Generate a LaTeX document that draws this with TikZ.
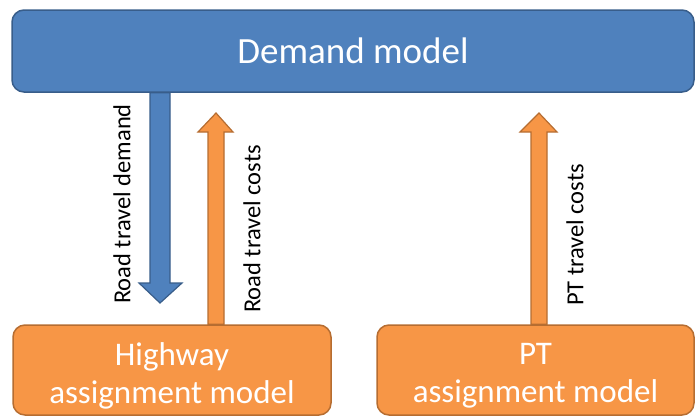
\documentclass[tikz,border=0pt]{standalone}
\usepackage{fontspec}
\setmainfont{Carlito}
\usetikzlibrary{calc,backgrounds}
\definecolor{dmblue}{RGB}{79,129,189}
\definecolor{dmblueline}{RGB}{56,93,138}
\definecolor{asorange}{RGB}{247,150,70}
\definecolor{asorangeline}{RGB}{182,109,49}
\begin{document}
\begin{tikzpicture}[x=1pt,y=-1pt,
  bluebox/.style={draw=dmblueline, fill=dmblue, line width=1.5pt, rounded corners=12pt, minimum width=682pt, minimum height=82pt, inner sep=0pt, text=white, font=\fontsize{37}{43}\selectfont},
  orangebox/.style={draw=asorangeline, fill=asorange, line width=1.5pt, rounded corners=12pt, minimum height=90pt, inner sep=0pt},
  boxtext/.style={text=white, font=\fontsize{33}{38}\selectfont, align=center, inner sep=0pt},
  flowlabel/.style={rotate=90, font=\fontsize{24.5}{28}\selectfont, text=black, inner sep=0pt},
  bluearrow/.style={draw=dmblueline, fill=dmblue, line width=1.2pt},
  orangearrow/.style={draw=asorangeline, fill=asorange, line width=1.2pt}
]
\useasboundingbox (0,0) rectangle (696,416);
\node[bluebox] (dm) at (353,51) {Demand model};
\node[orangebox, minimum width=318pt] (hw) at (172,370) {};
\node[orangebox, minimum width=317pt] (pt) at (535.5,370) {};
\node[boxtext] (hwtext) at (172,376) {Highway\\assignment model};
\node[boxtext] (pttext) at (535.5,376) {PT\\assignment model};
\coordinate (bluetip) at (160,303);
\coordinate (hwtip) at (216,113);
\coordinate (pttip) at (539,113);
\begin{scope}[on background layer]
\path[bluearrow] (150,0 |- dm.south) -- (150,283) -- (139,283) -- (bluetip) -- (182,283) -- (170,283) -- (170,0 |- dm.south) -- cycle;
\path[orangearrow] (208,0 |- hw.north) -- (208,132) -- (198,132) -- (hwtip) -- (233,132) -- (224,132) -- (224,0 |- hw.north) -- cycle;
\path[orangearrow] (531,0 |- pt.north) -- (531,132) -- (520,132) -- (pttip) -- (557,132) -- (547,132) -- (547,0 |- pt.north) -- cycle;
\end{scope}
\node[flowlabel] (lbldemand) at (122,204) {Road travel demand};
\node[flowlabel] (lblroad) at (252,229) {Road travel costs};
\node[flowlabel] (lblpt) at (575,235) {PT travel costs};
\end{tikzpicture}
\end{document}
